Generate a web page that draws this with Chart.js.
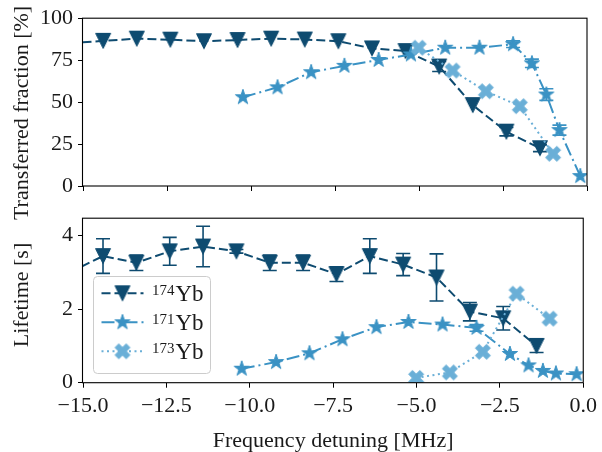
<!DOCTYPE html>
<html><head><meta charset="utf-8">
<script src="https://cdn.jsdelivr.net/npm/chart.js@4/dist/chart.umd.min.js"></script>
<style>
html,body{margin:0;padding:0;background:#fff;}
#wrap{position:relative;width:602px;height:452px;background:#fff;overflow:hidden;}
#c2{position:absolute;left:0;top:200px;}
#c1{position:absolute;left:0;top:0;}
</style></head><body>
<div id="wrap"><canvas id="c2" width="602" height="252"></canvas><canvas id="c1" width="602" height="240"></canvas></div>
<script>
// ---- data ----
const xTickValues = [-15, -12.5, -10, -7.5, -5, -2.5, 0];
const fracTickValues = [0, 25, 50, 75, 100];
const lifeTickValues = [0, 2, 4];
const seriesNames = ['174', '171', '173'];

const x174 = [-15.4, -14.4, -13.4, -12.4, -11.4, -10.4, -9.4, -8.4, -7.4, -6.4, -5.4, -4.4, -3.4, -2.4, -1.4];
const frac174 = [85.0, 86.5, 87.8, 87.2, 86.3, 87.0, 87.8, 87.3, 86.3, 82.0, 80.4, 71.2, 48.2, 32.4, 22.5];
const fracErr174 = [0, 0, 0, 0, 0, 0, 0, 0, 0, 0, 0, 3.0, 0, 2.5, 2.0];
const life174 = [3.0, 3.44, 3.26, 3.57, 3.70, 3.57, 3.26, 3.26, 2.95, 3.44, 3.21, 2.86, 1.93, 1.75, 1.00];
const lifeErr174 = [0.3, 0.47, 0.21, 0.38, 0.55, 0.05, 0.21, 0.21, 0.2, 0.47, 0.3, 0.64, 0.25, 0.32, 0.18];

const x171 = [-10.24, -9.21, -8.21, -7.22, -6.2, -5.24, -4.22, -3.2, -2.2, -1.64, -1.21, -0.82, -0.2];
const frac171 = [52.9, 58.8, 67.8, 71.6, 75.1, 78.4, 82.4, 82.4, 84.5, 73.1, 54.5, 33.3, 5.9];
const fracErr171 = [0, 0, 0, 0, 0, 0, 0, 0, 2.0, 2.5, 3.5, 3.0, 0];
const life171 = [0.38, 0.56, 0.80, 1.18, 1.51, 1.65, 1.58, 1.49, 0.78, 0.47, 0.32, 0.25, 0.23];
const lifeErr171 = [0, 0, 0, 0, 0, 0, 0, 0.09, 0, 0, 0, 0, 0];

const x173 = [-5.01, -4.0, -3.01, -2.0, -1.01];
const frac173 = [82.4, 68.8, 56.5, 47.6, 19.2];
const fracErr173 = [0, 0, 0, 0, 0];
const life173 = [0.13, 0.28, 0.84, 2.42, 1.74];
const lifeErr173 = [0, 0, 0, 0, 0];

// ---- styles ----
const C174 = '#0e4b70', C171 = '#3a92c4', C173 = '#6aafd7';
const FONT = "'Liberation Serif', 'Times New Roman', serif";
const TXT = '#1a1a1a';

function makeMarker(kind, color) {
  const s = 22, c = s / 2, cv = document.createElement('canvas');
  cv.width = s; cv.height = s;
  const g = cv.getContext('2d');
  g.fillStyle = color; g.strokeStyle = color; g.lineWidth = 1; g.lineJoin = 'miter';
  g.beginPath();
  if (kind === 'v') {
    const h = 7.5;
    g.moveTo(c - h, c - h); g.lineTo(c + h, c - h); g.lineTo(c, c + h);
  } else if (kind === '*') {
    const R = 8, r = R * 0.381966;
    for (let i = 0; i < 10; i++) {
      const rad = (i % 2 === 0) ? R : r;
      const a = -Math.PI / 2 + i * Math.PI / 5;
      const px = c + rad * Math.cos(a), py = c + rad * Math.sin(a);
      if (i === 0) g.moveTo(px, py); else g.lineTo(px, py);
    }
  } else {
    const pts = [[0.25,0],[0.5,0.25],[0.75,0],[1,0.25],[0.75,0.5],[1,0.75],[0.75,1],[0.5,0.75],[0.25,1],[0,0.75],[0.25,0.5],[0,0.25]];
    const w = 15;
    pts.forEach((p, i) => {
      const px = c + (p[0] - 0.5) * w, py = c + (p[1] - 0.5) * w;
      if (i === 0) g.moveTo(px, py); else g.lineTo(px, py);
    });
  }
  g.closePath(); g.fill(); g.stroke();
  return cv;
}
const M174 = makeMarker('v', C174), M171 = makeMarker('*', C171), M173 = makeMarker('X', C173);
const DASH174 = [9, 4], DASH171 = [13, 4, 2, 4], DASH173 = [2, 3.5];

function pts(xs, ys) { return xs.map((x, i) => ({ x: x, y: ys[i] })); }

function ds(label, xs, ys, color, dash, marker, order) {
  return { label: label, data: pts(xs, ys), showLine: true, borderColor: color, backgroundColor: color,
    borderWidth: 2, borderDash: dash, pointStyle: marker, pointRadius: 8, pointHoverRadius: 8,
    tension: 0, fill: false, order: order };
}

const errorBarPlugin = {
  id: 'errbars',
  beforeDatasetsDraw(chart) {
    const errs = chart.options.plugins.errbars.errors;
    const xs = chart.scales.x, ys = chart.scales.y, a = chart.chartArea, ctx = chart.ctx;
    ctx.save();
    ctx.beginPath(); ctx.rect(a.left, a.top, a.right - a.left, a.bottom - a.top); ctx.clip();
    chart.data.datasets.forEach((d, di) => {
      const e = errs[di];
      ctx.strokeStyle = d.borderColor; ctx.lineWidth = 1.6; ctx.setLineDash([]);
      d.data.forEach((p, i) => {
        if (!e[i]) return;
        const px = xs.getPixelForValue(p.x);
        const y1 = ys.getPixelForValue(p.y - e[i]), y2 = ys.getPixelForValue(p.y + e[i]);
        ctx.beginPath();
        ctx.moveTo(px, y1); ctx.lineTo(px, y2);
        ctx.moveTo(px - 7, y1); ctx.lineTo(px + 7, y1);
        ctx.moveTo(px - 7, y2); ctx.lineTo(px + 7, y2);
        ctx.stroke();
      });
    });
    ctx.restore();
  }
};

const framePlugin = {
  id: 'frame',
  afterDraw(chart) {
    const a = chart.chartArea, ctx = chart.ctx, o = chart.options.plugins.frame;
    ctx.save();
    ctx.strokeStyle = '#000'; ctx.lineWidth = 1.1; ctx.setLineDash([]);
    ctx.strokeRect(a.left - 0.5, a.top, a.right - a.left + 0.5, a.bottom - a.top);
    ctx.fillStyle = TXT;
    ctx.font = '22px ' + FONT;
    if (o.yTitle) {
      ctx.save();
      ctx.translate(o.yTitleX, o.yTitleY);
      ctx.rotate(-Math.PI / 2);
      ctx.textAlign = 'center'; ctx.textBaseline = 'alphabetic';
      ctx.fillText(o.yTitle, 0, 0);
      ctx.restore();
    }
    if (o.xTitle) {
      ctx.textAlign = 'center'; ctx.textBaseline = 'alphabetic';
      ctx.fillText(o.xTitle, (a.left + a.right) / 2, o.xTitleY);
    }
    ctx.restore();
  }
};

const legendPlugin = {
  id: 'mylegend',
  afterDraw(chart) {
    const o = chart.options.plugins.mylegend;
    if (!o.show) return;
    const ctx = chart.ctx;
    ctx.save();
    const bx = 93.5, by = 76.5, bw = 117, bh = 97, r = 4;
    ctx.beginPath();
    ctx.roundRect(bx, by, bw, bh, r);
    ctx.fillStyle = 'rgba(255,255,255,0.85)'; ctx.fill();
    ctx.strokeStyle = '#cccccc'; ctx.lineWidth = 1; ctx.stroke();
    const rows = [93.3, 122.3, 151.3];
    const order = [0, 1, 2];
    order.forEach((di, k) => {
      const d = chart.data.datasets[di];
      const y = rows[k];
      ctx.strokeStyle = d.borderColor; ctx.lineWidth = 2; ctx.setLineDash(d.borderDash);
      ctx.beginPath(); ctx.moveTo(101.5, y); ctx.lineTo(143.5, y); ctx.stroke();
      ctx.setLineDash([]);
      const img = d.pointStyle;
      ctx.drawImage(img, 122.5 - img.width / 2, y - img.height / 2);
      ctx.fillStyle = TXT; ctx.textAlign = 'left'; ctx.textBaseline = 'alphabetic';
      ctx.font = '15px ' + FONT;
      ctx.fillText(seriesNames[di], 152, y + 1.5);
      const w = ctx.measureText(seriesNames[di]).width;
      ctx.font = '23px ' + FONT;
      ctx.fillText('Yb', 152 + w + 1, y + 7.5);
    });
    ctx.restore();
  }
};

function xFmt(v) { return v < 0 ? '\u2212' + Math.abs(v).toFixed(1) : v.toFixed(1); }

function makeOptions(cfg) {
  return {
    responsive: false, animation: false, devicePixelRatio: 1, events: [],
    layout: { padding: { left: 0, right: 15, top: cfg.padTop, bottom: 0 } },
    plugins: {
      legend: { display: false }, tooltip: { enabled: false },
      errbars: { errors: cfg.errors },
      frame: cfg.frame,
      mylegend: { show: cfg.legend }
    },
    scales: {
      x: {
        type: 'linear', min: -15, max: 0,
        afterBuildTicks: s => { s.ticks = xTickValues.map(v => ({ value: v })); },
        afterFit: s => { s.height = cfg.xHeight; },
        grid: { drawOnChartArea: false, drawTicks: true, tickLength: 5, color: '#000', tickColor: '#000', lineWidth: 1 },
        border: { display: false },
        ticks: { display: cfg.xLabels, padding: 5, color: TXT, font: { family: FONT, size: 22 }, maxRotation: 0, callback: v => xFmt(v) }
      },
      y: {
        type: 'linear', min: cfg.yMin, max: cfg.yMax,
        afterBuildTicks: s => { s.ticks = cfg.yTicks.map(v => ({ value: v })); },
        afterFit: s => { s.width = 83; },
        grid: { drawOnChartArea: false, drawTicks: true, tickLength: 5, color: '#000', tickColor: '#000', lineWidth: 1 },
        border: { display: false },
        ticks: { padding: 5, color: TXT, font: { family: FONT, size: 22 }, callback: v => String(v) }
      }
    }
  };
}

new Chart(document.getElementById('c1'), {
  type: 'scatter',
  data: { datasets: [
    ds('174Yb', x174, frac174, C174, DASH174, M174, 3),
    ds('171Yb', x171, frac171, C171, DASH171, M171, 2),
    ds('173Yb', x173, frac173, C173, DASH173, M173, 1)
  ] },
  options: makeOptions({ padTop: 16, xHeight: 54, xLabels: false, yMin: 0, yMax: 100, yTicks: fracTickValues,
    errors: [fracErr174, fracErr171, fracErr173], legend: false,
    frame: { yTitle: 'Transferred fraction [%]', yTitleX: 28, yTitleY: 113 } }),
  plugins: [errorBarPlugin, framePlugin, legendPlugin]
});

new Chart(document.getElementById('c2'), {
  type: 'scatter',
  data: { datasets: [
    ds('174Yb', x174, life174, C174, DASH174, M174, 3),
    ds('171Yb', x171, life171, C171, DASH171, M171, 2),
    ds('173Yb', x173, life173, C173, DASH173, M173, 1)
  ] },
  options: makeOptions({ padTop: 14, xHeight: 69.3, xLabels: true, yMin: 0, yMax: 4.47, yTicks: lifeTickValues,
    errors: [lifeErr174, lifeErr171, lifeErr173], legend: true,
    frame: { yTitle: 'Lifetime [s]', yTitleX: 28, yTitleY: 95, xTitle: 'Frequency detuning [MHz]', xTitleY: 247 } }),
  plugins: [errorBarPlugin, framePlugin, legendPlugin]
});
</script>
</body></html>
